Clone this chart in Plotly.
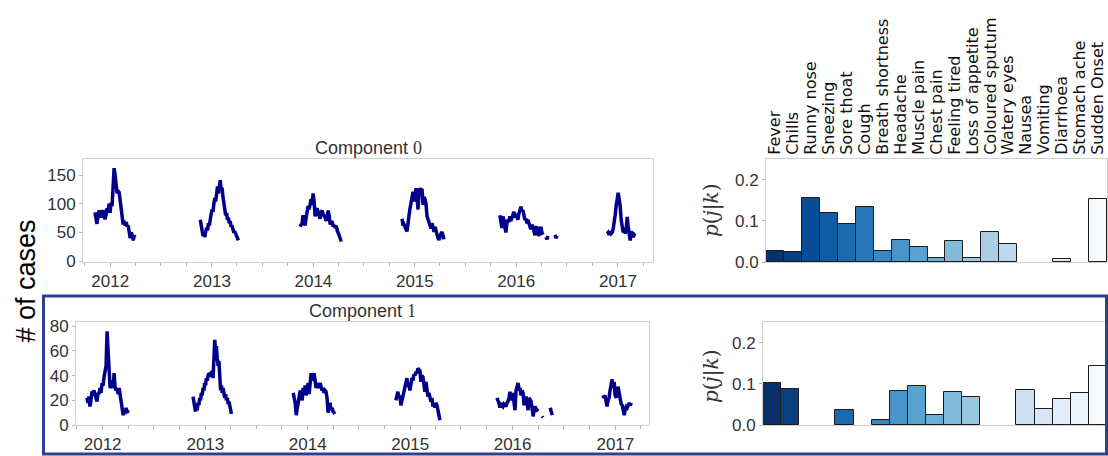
import pandas as pd
import plotly.graph_objects as go
from plotly.colors import sample_colorscale, sequential

# ---- Component 0: daily case counts per flu season ----
c0_spans = [
    ("2011-11-07", "2012-03-31"),
    ("2012-11-20", "2013-04-06"),
    ("2013-11-14", "2014-04-11"),
    ("2014-11-16", "2015-04-16"),
    ("2015-11-03", "2016-04-06"),
    ("2016-04-17", "2016-04-24"),
    ("2016-05-20", "2016-05-27"),
    ("2016-11-23", "2017-03-04"),
]
c0_2012 = [85, 70, 65, 78, 88, 85, 76, 82, 89, 80, 73, 80, 92, 88, 100, 84, 102, 96, 130, 162,
           150, 136, 118, 122, 120, 106, 90, 72, 64, 70, 62, 68, 60, 62, 52, 40, 50, 46, 36, 44, 42]
c0_2013 = [72, 60, 55, 44, 48, 42, 52, 58, 54, 66, 62, 76, 82, 90, 86, 100, 110, 104, 122, 130,
           118, 132, 141, 126, 128, 112, 102, 90, 80, 84, 72, 76, 66, 70, 60, 62, 54, 50, 52, 46,
           44, 40, 36]
c0_2014 = [60, 63, 66, 80, 70, 62, 75, 84, 96, 90, 100, 108, 98, 118, 104, 78, 90, 92, 84, 80,
           74, 86, 88, 82, 80, 76, 70, 86, 88, 80, 64, 66, 70, 60, 63, 58, 62, 54, 50, 45, 40, 34]
c0_2015 = [74, 62, 64, 58, 55, 52, 62, 80, 92, 100, 115, 121, 104, 118, 127, 112, 90, 120, 127, 124,
           126, 98, 112, 108, 100, 78, 72, 68, 62, 57, 66, 58, 51, 60, 52, 48, 40, 37, 46, 48, 51, 44, 38]
c0_2016 = [80, 62, 58, 78, 72, 60, 50, 66, 72, 68, 78, 70, 76, 82, 86, 76, 80, 78, 72, 83,
           88, 95, 86, 89, 80, 72, 74, 66, 72, 64, 60, 56, 63, 60, 50, 45, 58, 60, 50, 44, 55, 60, 50, 46]
c0_2016_apr = [42, 38, 44]
c0_2016_may = [46, 40, 44]
c0_2017 = [48, 50, 46, 52, 48, 50, 56, 66, 80, 96, 112, 119, 108, 96, 72, 56, 50, 58, 48, 56,
           77, 60, 44, 36, 52, 46, 42, 46, 44]
c0_blocks = [c0_2012, c0_2013, c0_2014, c0_2015, c0_2016, c0_2016_apr, c0_2016_may, c0_2017]

# ---- Component 1 ----
c1_spans = [
    ("2011-11-06", "2012-04-01"),
    ("2012-11-18", "2013-04-04"),
    ("2013-11-10", "2014-04-08"),
    ("2014-11-11", "2015-04-17"),
    ("2015-11-06", "2016-04-01"),
    ("2016-04-15", "2016-04-18"),
    ("2016-05-14", "2016-05-21"),
    ("2016-11-18", "2017-02-27"),
]
c1_2012 = [22, 18, 23, 15, 20, 27, 26, 28, 25, 22, 19, 26, 25, 30, 26, 34, 32, 39, 44, 48,
           76, 60, 48, 30, 32, 36, 30, 42, 30, 28, 30, 25, 30, 25, 22, 15, 8, 13, 9, 14, 10, 12]
c1_2013 = [23, 19, 16, 11, 14, 12, 18, 16, 22, 20, 26, 24, 30, 28, 34, 32, 38, 36, 40, 42,
           39, 43, 41, 44, 38, 56, 69, 60, 64, 54, 48, 52, 40, 28, 32, 26, 30, 27, 22, 25,
           20, 22, 17, 19, 14, 12, 9]
c1_2014 = [26, 22, 18, 8, 14, 20, 22, 28, 24, 20, 30, 26, 32, 24, 30, 34, 25, 40, 42, 36,
           40, 42, 36, 30, 34, 32, 30, 34, 31, 28, 30, 26, 28, 27, 22, 10, 15, 18, 12, 14, 11, 10, 9]
c1_2015 = [20, 24, 27, 22, 24, 16, 20, 25, 28, 30, 34, 38, 31, 33, 28, 32, 38, 36, 41, 40,
           43, 42, 46, 45, 44, 35, 40, 39, 30, 27, 35, 28, 23, 26, 20, 19, 22, 15, 18, 14, 18, 16, 12, 8, 4]
c1_2016 = [22, 20, 18, 14, 18, 16, 15, 17, 16, 15, 18, 19, 22, 27, 20, 24, 26, 18, 12, 28,
           33, 34, 28, 30, 24, 28, 26, 16, 20, 23, 18, 12, 22, 20, 19, 14, 7, 12, 15, 13, 12, 11]
c1_2016_apr = [7, 6]
c1_2016_may = [14, 10, 8]
c1_2017 = [24, 22, 24, 18, 15, 20, 22, 28, 33, 37, 30, 35, 24, 22, 28, 31, 26, 20, 17, 16,
           12, 8, 13, 15, 14, 16, 18, 16, 18]
c1_blocks = [c1_2012, c1_2013, c1_2014, c1_2015, c1_2016, c1_2016_apr, c1_2016_may, c1_2017]

# ---- Symptom distributions p(j|k) ----
symptoms = ["Fever", "Chills", "Runny nose", "Sneezing", "Sore thoat", "Cough",
            "Breath shortness", "Headache", "Muscle pain", "Chest pain", "Feeling tired",
            "Loss of appetite", "Coloured sputum", "Watery eyes", "Nausea", "Vomiting",
            "Diarrhoea", "Stomach ache", "Sudden Onset"]
p_comp0 = [0.026, 0.024, 0.155, 0.119, 0.092, 0.134, 0.026, 0.053, 0.036, 0.009, 0.051,
           0.009, 0.072, 0.044, 0.0, 0.0, 0.0065, 0.0, 0.153]
p_comp1 = [0.103, 0.088, 0.0, 0.0, 0.037, 0.0, 0.011, 0.083, 0.095, 0.024, 0.080,
           0.069, 0.0, 0.0, 0.086, 0.040, 0.064, 0.078, 0.144]

W, H = 1108, 456
NAVY = "#00008b"
FRAME = "#d0d0d0"
TICKC = "#b5b5b5"
TXT = "#333333"
SANS = "Liberation Sans, Arial, sans-serif"


def season_xy(spans, blocks):
    xs, ys = [], []
    for (start, end), vals in zip(spans, blocks):
        dates = pd.date_range(start, end, periods=len(vals))
        xs += list(dates.strftime("%Y-%m-%d %H:%M")) + [None]
        ys += list(vals) + [None]
    return xs, ys


def px_x(a, b):
    return [a / W, b / W]


def px_y(top, bottom):
    return [1 - bottom / H, 1 - top / H]


bar_colors = sample_colorscale(sequential.Blues_r, [i / 18 for i in range(19)])

fig = go.Figure()

x0, y0 = season_xy(c0_spans, c0_blocks)
x1, y1 = season_xy(c1_spans, c1_blocks)
fig.add_trace(go.Scatter(x=x0, y=y0, mode="lines", line=dict(color=NAVY, width=3.5),
                         connectgaps=False, xaxis="x", yaxis="y", showlegend=False))
fig.add_trace(go.Scatter(x=x1, y=y1, mode="lines", line=dict(color=NAVY, width=3.5),
                         connectgaps=False, xaxis="x2", yaxis="y2", showlegend=False))

for vals, xa, ya in [(p_comp0, "x3", "y3"), (p_comp1, "x4", "y4")]:
    fig.add_trace(go.Bar(x=symptoms, y=[v if v > 0 else None for v in vals],
                         marker=dict(color=bar_colors, line=dict(color="#1c1c1c", width=1)),
                         xaxis=xa, yaxis=ya, showlegend=False))

tickfont = dict(family=SANS, size=17, color=TXT)

date_axis = dict(
    type="date", tickformat="%Y", dtick="M12", tick0="2012-01-01",
    ticks="outside", ticklen=4, tickcolor=TICKC, tickfont=tickfont,
    minor=dict(dtick="M3", ticks="outside", ticklen=3, tickcolor=TICKC, showgrid=False),
    showline=True, linecolor=FRAME, linewidth=1, mirror=True,
    showgrid=False, zeroline=False, automargin=False,
)
val_axis = dict(
    ticks="outside", ticklen=3, tickcolor=TICKC, tickfont=tickfont,
    showline=True, linecolor=FRAME, linewidth=1, mirror=True,
    showgrid=False, zeroline=False, automargin=False,
)
bar_y = dict(val_axis, range=[0, 0.25], tickvals=[0.0, 0.1, 0.2], tickformat=".1f", mirror="ticks")

fig.update_layout(
    width=W, height=H, margin=dict(l=0, r=0, t=0, b=0),
    paper_bgcolor="white", plot_bgcolor="white", template="none",
    bargap=0, hovermode=False,
    xaxis=dict(date_axis, domain=px_x(83, 653), range=["2011-09-25", "2017-05-07"], anchor="y"),
    yaxis=dict(val_axis, domain=px_y(159, 262), range=[-1.5, 178], tickvals=[0, 50, 100, 150], anchor="x"),
    xaxis2=dict(date_axis, domain=px_x(76, 649), range=["2011-09-28", "2017-05-01"], anchor="y2"),
    yaxis2=dict(val_axis, domain=px_y(322, 425), range=[0, 83.5], tickvals=[0, 20, 40, 60, 80], anchor="x2"),
    xaxis3=dict(type="category", domain=px_x(766, 1107), range=[-0.5, 18.5], anchor="y3",
                tickmode="linear", tick0=0, dtick=1,
                side="top", tickangle=-90, ticks="", showline=True, linecolor=FRAME, mirror=True,
                tickfont=dict(family="DejaVu Sans", size=16, color="#111111"),
                showgrid=False, zeroline=False, automargin=False),
    yaxis3=dict(bar_y, domain=px_y(159, 262), anchor="x3"),
    xaxis4=dict(type="category", domain=px_x(763, 1107), range=[-0.5, 18.5], anchor="y4",
                showticklabels=False, ticks="", showline=True, linecolor=FRAME, mirror=True,
                showgrid=False, zeroline=False, automargin=False),
    yaxis4=dict(bar_y, domain=px_y(322, 425), anchor="x4"),
)

serif_digit = "<span style='font-family:Liberation Serif, serif'>{}</span>"
fig.add_annotation(text="Component " + serif_digit.format(0), xref="paper", yref="paper",
                   x=368 / W, y=1 - 148 / H, showarrow=False, xanchor="center", yanchor="middle",
                   font=dict(family=SANS, size=18, color=TXT))
fig.add_annotation(text="Component " + serif_digit.format(1), xref="paper", yref="paper",
                   x=362 / W, y=1 - 311 / H, showarrow=False, xanchor="center", yanchor="middle",
                   font=dict(family=SANS, size=18, color=TXT))

fig.add_annotation(text="# of cases", xref="paper", yref="paper", x=25.5 / W, y=1 - 281 / H,
                   textangle=-90, showarrow=False, xanchor="center", yanchor="middle",
                   font=dict(family=SANS, size=27, color="black"))

pjk = "<i>p</i>(<i>j</i>|<i>k</i>)"
for ypx in (210, 376):
    fig.add_annotation(text=pjk, xref="paper", yref="paper", x=711 / W, y=1 - ypx / H,
                       textangle=-90, showarrow=False, xanchor="center", yanchor="middle",
                       font=dict(family="DejaVu Serif, serif", size=20, color=TXT))

# frame around the second component row
fig.add_shape(type="rect", xref="paper", yref="paper",
              x0=43.5 / W, x1=1106.5 / W, y0=1 - 454 / H, y1=1 - 296 / H,
              line=dict(color="#2e3f94", width=3), fillcolor="rgba(0,0,0,0)")

fig.write_html("out.html")
